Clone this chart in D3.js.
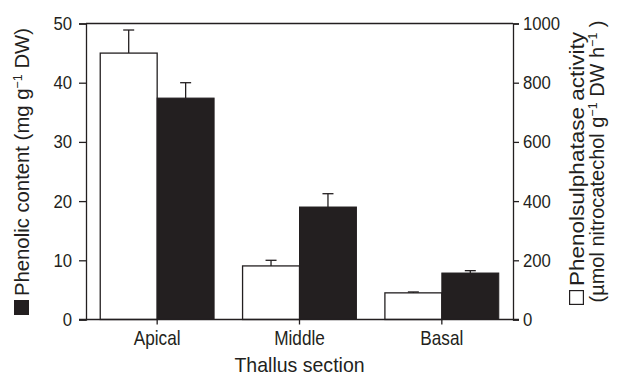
<!DOCTYPE html>
<html>
<head>
<meta charset="utf-8">
<script src="https://cdn.jsdelivr.net/npm/d3@7"></script>
<style>
  html, body { margin: 0; padding: 0; background: #fff; }
  svg { display: block; }
  text { font-family: "Liberation Sans", Arial, sans-serif; fill: #231f20; }
</style>
</head>
<body>
<svg id="chart" width="618" height="375"></svg>
<script>
// Thallus sections along the x axis
const sections = ["Apical", "Middle", "Basal"];
// Phenolsulphatase activity (µmol nitrocatechol g-1 DW h-1), right axis, white bars
const activity = [900, 181, 90];
const activityErr = [78, 19, 3];
// Phenolic content (mg g-1 DW), left axis, black bars
const phenolic = [37.4, 19.0, 7.85];
const phenolicErr = [2.6, 2.25, 0.4];
// Axis ticks
const leftTicks = [0, 10, 20, 30, 40, 50];
const rightTicks = [0, 200, 400, 600, 800, 1000];

const ink = "#231f20";
const svg = d3.select("#chart");
const W = 618, H = 375;
const m = { left: 86, right: 105, top: 23.5, bottom: 55.5 };
const x0 = m.left, x1 = W - m.right, y0 = H - m.bottom, y1 = m.top;
const cy = (y0 + y1) / 2;

const xc = d3.scaleBand().domain(sections).range([x0, x1]);
const yL = d3.scaleLinear().domain([0, 50]).range([y0, y1]);
const yR = d3.scaleLinear().domain([0, 1000]).range([y0, y1]);

const bw = xc.bandwidth() * 0.4;

// condensed look: squeeze a text horizontally around its anchor
function condense(sel, s) {
  sel.each(function () {
    const t = d3.select(this);
    const tx = +t.attr("x") || 0;
    const ty = +t.attr("y") || 0;
    t.attr("x", 0).attr("y", 0)
      .attr("transform", `translate(${tx},${ty}) scale(${s},1)`);
  });
}

// bars
const g = svg.append("g");
sections.forEach((s, i) => {
  const c = xc(s) + xc.bandwidth() / 2;
  // white bar: activity on right scale
  g.append("rect")
    .attr("x", c - bw).attr("width", bw)
    .attr("y", yR(activity[i])).attr("height", yR(0) - yR(activity[i]))
    .attr("fill", "#fff").attr("stroke", ink).attr("stroke-width", 1.3);
  // black bar: phenolic content on left scale
  g.append("rect")
    .attr("x", c).attr("width", bw)
    .attr("y", yL(phenolic[i])).attr("height", yL(0) - yL(phenolic[i]))
    .attr("fill", ink).attr("stroke", ink).attr("stroke-width", 1);
  // error bars (upper only)
  const errs = [
    { cx: c - bw / 2, top: yR(activity[i] + activityErr[i]), base: yR(activity[i]) },
    { cx: c + bw / 2, top: yL(phenolic[i] + phenolicErr[i]), base: yL(phenolic[i]) }
  ];
  errs.forEach(e => {
    g.append("line").attr("x1", e.cx).attr("x2", e.cx).attr("y1", e.base).attr("y2", e.top)
      .attr("stroke", ink).attr("stroke-width", 1.3);
    g.append("line").attr("x1", e.cx - 5.5).attr("x2", e.cx + 5.5).attr("y1", e.top).attr("y2", e.top)
      .attr("stroke", ink).attr("stroke-width", 1.3);
  });
});

// frame: top line
svg.append("line").attr("x1", x0).attr("x2", x1).attr("y1", y1).attr("y2", y1)
  .attr("stroke", ink).attr("stroke-width", 1.3);

// left axis
const gl = svg.append("g").attr("transform", `translate(${x0},0)`)
  .call(d3.axisLeft(yL).tickValues(leftTicks).tickSize(7).tickPadding(7));
// right axis
const gr = svg.append("g").attr("transform", `translate(${x1},0)`)
  .call(d3.axisRight(yR).tickValues(rightTicks).tickFormat(d3.format("d")).tickSize(6).tickPadding(4));
// bottom axis
const gb = svg.append("g").attr("transform", `translate(0,${y0})`)
  .call(d3.axisBottom(xc).tickSize(5).tickPadding(6).tickSizeOuter(0));

[gl, gr, gb].forEach(a => {
  a.attr("font-family", null).attr("font-size", null);
  a.select(".domain").attr("stroke", ink).attr("stroke-width", 1.3);
  a.selectAll(".tick line").attr("stroke", ink).attr("stroke-width", 1.3);
  a.selectAll(".tick text").attr("fill", ink);
});
gl.selectAll(".tick text").attr("font-size", 19).call(condense, 0.88);
gr.selectAll(".tick text").attr("font-size", 19).call(condense, 0.88);
gb.selectAll(".tick text").attr("font-size", 20).call(condense, 0.86);
// extend bottom line to the outer tick ends
gb.select(".domain").attr("d", `M${x0 - 7},0H${x1 + 6}`);

// x axis title
svg.append("text").attr("x", (x0 + x1) / 2).attr("y", 372)
  .attr("text-anchor", "middle").attr("font-size", 21).text("Thallus section")
  .call(condense, 0.93);

// vertical title, reading upward, optionally led by a key square
// parts: [text, superscript?] pairs
function vTitle(bx, centre, len, parts, key) {
  const sq = 15, gap = 4;
  const total = (key ? sq + gap : 0) + len;
  const grp = svg.append("g")
    .attr("transform", `translate(${bx},${centre + total / 2}) rotate(-90)`);
  if (key) {
    grp.append("rect").attr("x", 0.6).attr("y", -sq + 0.6)
      .attr("width", sq - 1.2).attr("height", sq - 1.2)
      .attr("fill", key === "filled" ? ink : "#fff")
      .attr("stroke", ink).attr("stroke-width", 1.2);
  }
  const t = grp.append("text").attr("x", key ? sq + gap : 0).attr("y", 0)
    .attr("font-size", 21)
    .attr("textLength", len).attr("lengthAdjust", "spacingAndGlyphs");
  parts.forEach(([str, sup]) => {
    const ts = t.append("tspan").text(str);
    if (sup) ts.attr("baseline-shift", "super").attr("font-size", 13);
  });
}

vTitle(29, cy, 268,
  [["Phenolic content (mg g"], ["\u22121", true], [" DW)"]], "filled");
vTitle(584, cy - 3, 254,
  [["Phenolsulphatase activity"]], "open");
vTitle(604, cy - 10, 282,
  [["(\u00B5mol nitrocatechol  g"], ["\u22121", true], [" DW h"], ["\u22121", true], [" )"]], null);
</script>
</body>
</html>
